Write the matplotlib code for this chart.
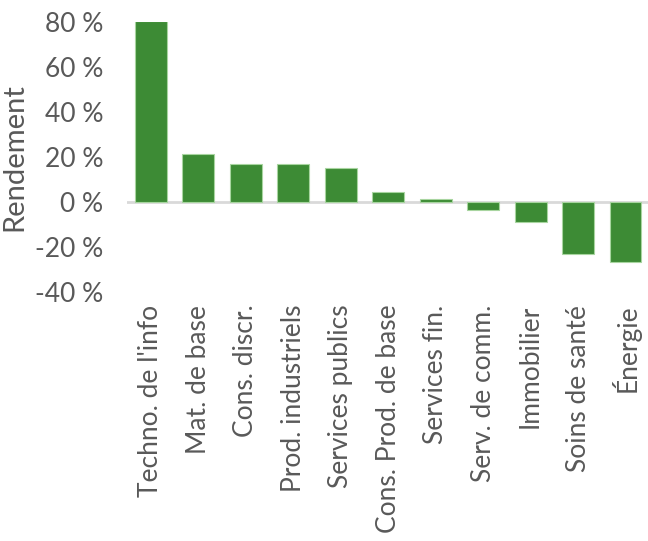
import matplotlib
matplotlib.use("Agg")
import matplotlib.pyplot as plt
from matplotlib.ticker import FuncFormatter

secteurs = ["Techno. de l'info", "Mat. de base", "Cons. discr.", "Prod. industriels",
            "Services publics", "Cons. Prod. de base", "Services fin.", "Serv. de comm.",
            "Immobilier", "Soins de santé", "Énergie"]
rendement = [80.4, 21.3, 17.1, 17.0, 15.2, 4.3, 1.5, -3.7, -8.6, -23.0, -26.8]
yticks = [-40, -20, 0, 20, 40, 60, 80]

gris = "#595959"
plt.rcParams["font.family"] = ["Lato", "DejaVu Sans"]

fig = plt.figure(figsize=(6.48, 5.41), dpi=100)
ax = fig.add_axes([0.196, 0.46, 0.806, 0.499])

x = range(len(secteurs))
ax.bar(x, rendement, width=0.67, color="#3d8b35", edgecolor="#a8d5a0", linewidth=0.8, zorder=2)
ax.axhline(0, color="#d9d9d9", linewidth=2, zorder=1)

ax.set_xlim(-0.5, len(secteurs) - 0.5)
ax.set_ylim(-40, 80)
ax.set_yticks(yticks)
ax.yaxis.set_major_formatter(FuncFormatter(lambda v, p: f"{v:.0f} %"))
ax.set_xticks(list(x))
ax.set_xticklabels(secteurs, rotation=90, fontsize=19, color=gris)
ax.tick_params(axis="y", labelsize=19, labelcolor=gris, length=0, pad=17)
ax.tick_params(axis="x", length=0, pad=9)
ax.set_ylabel("Rendement", fontsize=21, color=gris)
ax.yaxis.set_label_coords(-0.19, 0.5)

for s in ax.spines.values():
    s.set_visible(False)

fig.savefig("out.png", dpi=100)
